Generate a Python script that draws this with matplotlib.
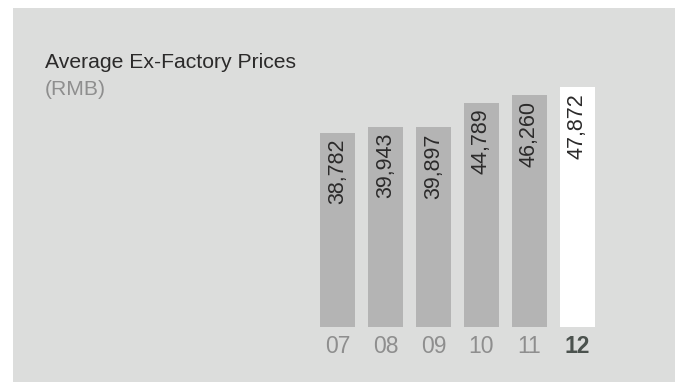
import matplotlib
matplotlib.use("Agg")
import matplotlib.pyplot as plt
from matplotlib.patches import Rectangle

# Average ex-factory prices (RMB), 2007-2012
years = ["07", "08", "09", "10", "11", "12"]
prices = [38782, 39943, 39897, 44789, 46260, 47872]

W, H, DPI = 679, 382, 100

PANEL_GREY = "#dcdddc"
BAR_GREY = "#b4b4b4"
HIGHLIGHT = "#ffffff"
TEXT_DARK = "#2b2a2a"
TEXT_GREY = "#8e8e8e"
YEAR_BOLD = "#4b524e"

plt.rcParams["font.family"] = ["Liberation Sans", "DejaVu Sans"]


def fx(px):
    return px / W


def fy(py):
    # pixel row from the top -> figure fraction from the bottom
    return 1 - py / H


fig = plt.figure(figsize=(W / DPI, H / DPI), dpi=DPI, facecolor="white")

# grey panel behind everything
fig.patches.append(Rectangle((fx(13), 0), fx(675) - fx(13), fy(8),
                             transform=fig.transFigure, facecolor=PANEL_GREY,
                             edgecolor="none", zorder=-10))

fig.text(fx(45), fy(68), "Average Ex-Factory Prices", fontsize=15.2,
         color=TEXT_DARK, va="baseline", ha="left")
fig.text(fx(45), fy(95), "(RMB)", fontsize=15.2,
         color=TEXT_GREY, va="baseline", ha="left")

# bar slots are 48 px apart, first slot centred at x=337.5 px
ax_left, ax_right = 300, 620
ax_top, ax_bottom = 60, 326.5
ax = fig.add_axes([fx(ax_left), fy(ax_bottom), fx(ax_right - ax_left),
                   (ax_bottom - ax_top) / H])
ax.set_xlim(-37.5 / 48, (ax_right - 337.5) / 48)
ax.set_ylim(0, (ax_bottom - ax_top) / 0.005)
ax.axis("off")

xs = list(range(len(years)))
colours = [BAR_GREY] * (len(years) - 1) + [HIGHLIGHT]
ax.bar(xs, prices, width=35 / 48, color=colours, edgecolor="none")

for x, v in zip(xs, prices):
    ax.annotate(f"{v:,}", (x, v), xytext=(0, -4.5), textcoords="offset points",
                rotation=90, ha="center", va="top", fontsize=15.5,
                color=TEXT_DARK)

for i, (x, yr) in enumerate(zip(xs, years)):
    last = i == len(years) - 1
    ax.annotate(yr, (x, 0), xytext=(0, -6), textcoords="offset points",
                ha="center", va="top", fontsize=16.5,
                color=YEAR_BOLD if last else TEXT_GREY,
                fontweight="bold" if last else "normal",
                annotation_clip=False)

fig.savefig("out.png", dpi=DPI, facecolor="white")
